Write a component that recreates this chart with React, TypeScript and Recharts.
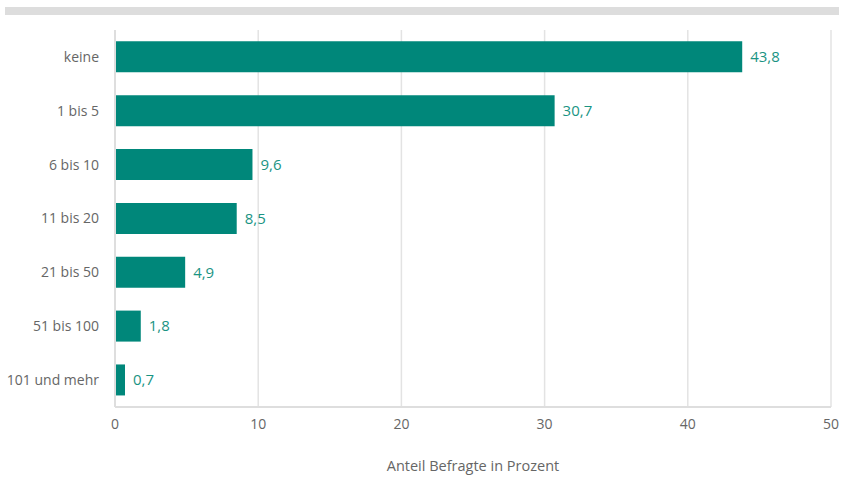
import { BarChart, Bar, XAxis, YAxis, CartesianGrid, LabelList } from "recharts";

// ── Data ─────────────────────────────────────────────────────────────────────

const categories = ["keine", "1 bis 5", "6 bis 10", "11 bis 20", "21 bis 50", "51 bis 100", "101 und mehr"];
const shares = [43.8, 30.7, 9.6, 8.5, 4.9, 1.8, 0.7];
const xTicks = [0, 10, 20, 30, 40, 50];

const data = categories.map((name, i) => ({ name, value: shares[i] }));

const FONT = "'Open Sans', 'Noto Sans', sans-serif";
const fmt = (v: number) => v.toFixed(1).replace(".", ",");

export default function App() {
  return (
    <div style={{ position: "absolute", left: 0, top: 0, width: 842, height: 477, background: "#fff", fontFamily: FONT }}>
      {/* grey strip across the top */}
      <div style={{ position: "absolute", left: 5, top: 7, width: 834, height: 8, background: "#dddddd" }} />
      <BarChart
        width={842}
        height={477}
        data={data}
        layout="vertical"
        margin={{ top: 30, right: 11, left: 0, bottom: 10 }}
        barCategoryGap="21%"
      >
        <CartesianGrid horizontal={false} stroke="#e3e3e3" strokeWidth={1.5} />
        <XAxis
          type="number"
          domain={[0, 50]}
          ticks={xTicks}
          tick={{ fill: "#666", fontSize: 14, fontFamily: FONT }}
          tickLine={false}
          axisLine={{ stroke: "#dedede", strokeWidth: 2 }}
          tickMargin={6}
          height={60}
          label={{ value: "Anteil Befragte in Prozent", position: "insideBottom", offset: -4, fill: "#666", fontSize: 14.5, fontFamily: FONT }}
        />
        <YAxis
          type="category"
          dataKey="name"
          width={115}
          tick={{ fill: "#666", fontSize: 14, fontFamily: FONT }}
          tickLine={false}
          axisLine={{ stroke: "#dedede", strokeWidth: 2 }}
          tickMargin={10}
        />
        <Bar dataKey="value" fill="#00877a" isAnimationActive={false}>
          <LabelList dataKey="value" position="right" formatter={(v: number) => fmt(v)} fill="#1a9483" fontSize={15} fontFamily={FONT} offset={8} />
        </Bar>
      </BarChart>
    </div>
  );
}
